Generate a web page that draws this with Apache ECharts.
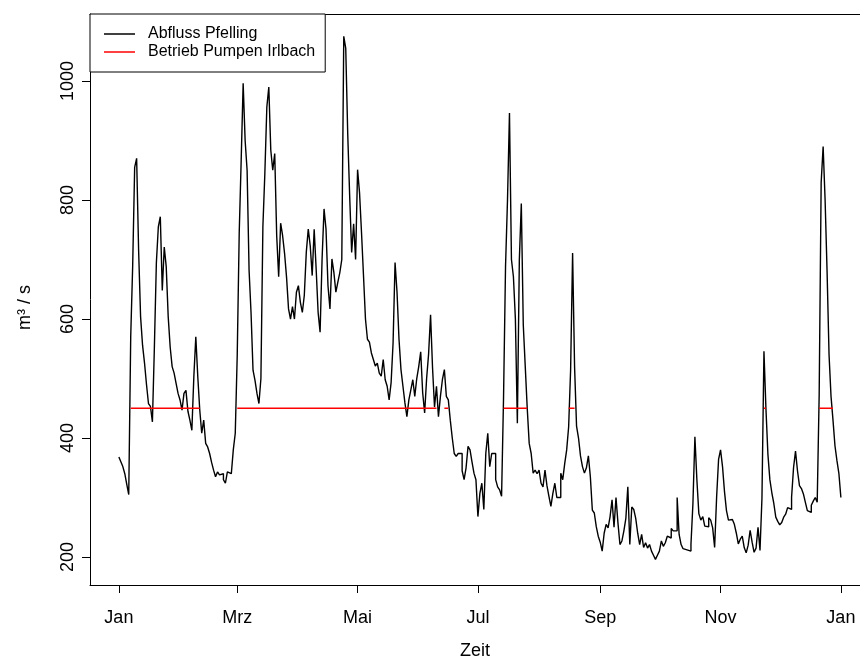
<!DOCTYPE html>
<html>
<head>
<meta charset="utf-8">
<title>Abfluss Pfelling</title>
<script src="https://cdn.jsdelivr.net/npm/echarts@6/dist/echarts.min.js"></script>
<style>
  html, body { margin: 0; padding: 0; background: #ffffff; }
  #chart { width: 860px; height: 661px; }
</style>
</head>
<body>
<div id="chart"></div>
<script>
// Daily discharge at Pfelling (m³/s), one array per month of a leap year
const flowJan = [368, 360, 352, 340, 322, 305, 570, 690, 855, 870,
                 716, 604, 556, 526, 490, 458, 453, 427, 553, 694,
                 755, 772, 648, 721, 688, 604, 553, 520, 509, 492,
                 475];
const flowFeb = [464, 447, 475, 480, 445, 430, 413, 503, 570, 503,
                 447, 408, 430, 391, 385, 374, 359, 346, 335, 343,
                 338, 340, 330, 324, 343, 340, 340, 380, 408];
const flowMar = [540, 744, 867, 996, 900, 850, 682, 610, 514, 497,
                 475, 458, 500, 755, 845, 956, 990, 884, 850, 878,
                 740, 671, 761, 740, 710, 670, 617, 600, 621, 600,
                 645];
const flowApr = [656, 628, 611, 640, 712, 751, 723, 673, 751, 684,
                 611, 578, 700, 785, 751, 656, 617, 701, 678, 645,
                 662, 678, 700, 1075, 1055, 912, 806, 712, 760, 700];
const flowMay = [851, 812, 745, 673, 600, 566, 561, 543, 532, 521,
                 526, 509, 504, 532, 498, 487, 464, 493, 560, 695,
                 645, 566, 515, 487, 459, 436, 464, 481, 498, 470,
                 500];
const flowJun = [520, 545, 476, 442, 500, 541, 607, 518, 452, 487,
                 436, 470, 498, 515, 470, 464, 430, 400, 374, 369,
                 374, 374, 345, 330, 350, 386, 380, 360, 341, 330];
const flowJul = [268, 307, 324, 280, 374, 408, 352, 374, 374, 330,
                 318, 313, 302, 469, 688, 800, 946, 700, 671, 600,
                 425, 699, 794, 590, 520, 450, 391, 374, 341, 346,
                 340];
const flowAug = [346, 324, 318, 346, 320, 302, 285, 307, 324, 300,
                 300, 341, 330, 357, 380, 419, 515, 711, 520, 420,
                 400, 370, 352, 341, 350, 370, 335, 279, 274, 251,
                 235];
const flowSep = [225, 210, 240, 255, 249, 268, 296, 250, 300, 257,
                 221, 227, 244, 265, 318, 221, 284, 280, 265, 240,
                 221, 238, 216, 224, 215, 221, 210, 203, 196, 203];
const flowOct = [210, 227, 218, 224, 235, 232, 248, 244, 244, 300,
                 238, 221, 214, 212, 210, 210, 221, 290, 402, 330,
                 273, 262, 268, 252, 251, 266, 262, 249, 216, 300,
                 364];
const flowNov = [380, 352, 310, 278, 262, 263, 261, 255, 240, 222,
                 230, 235, 216, 207, 220, 245, 225, 208, 215, 250,
                 211, 300, 546, 450, 373, 330, 308, 290, 267, 260];
const flowDec = [254, 258, 267, 272, 283, 280, 300, 350, 378, 345,
                 320, 315, 306, 292, 278, 275, 287, 294, 300, 292,
                 474, 829, 890, 800, 680, 540, 470, 430, 387, 362,
                 340];
const flowNextJan1 = [300];

// Pump operation at Irlbach: start / end day of each period (day 0 = 1 Jan)
const pumpStart = [6, 60, 165, 195, 228, 327, 355];
const pumpEnd   = [41, 161, 167, 207, 231, 328, 362];
const pumpLevel = 450;

// Axis ticks
const monthTickDays = [0, 60, 121, 182, 244, 305, 366];
const monthTickLabels = ['Jan', 'Mrz', 'Mai', 'Jul', 'Sep', 'Nov', 'Jan'];
const yTickValues = [200, 400, 600, 800, 1000];

const seriesNames = ['Abfluss Pfelling', 'Betrieb Pumpen Irlbach'];

// ---- build series data ----
const flow = [].concat(flowJan, flowFeb, flowMar, flowApr, flowMay, flowJun,
                       flowJul, flowAug, flowSep, flowOct, flowNov, flowDec, flowNextJan1);
const flowData = flow.map((v, i) => [i, v]);

const pumpData = [];
pumpStart.forEach((s, k) => {
  pumpData.push([s, pumpLevel]);
  pumpData.push([pumpEnd[k], pumpLevel]);
  pumpData.push([pumpEnd[k], null]);   // break between periods
});

// x range: 4 % padding around the year on the left; the frame runs off the right edge
const X_MIN = -14.64;
const X_MAX = 375.69;

const FONT = '"Liberation Sans", Arial, Helvetica, sans-serif';
const chart = echarts.init(document.getElementById('chart'), null, { renderer: 'canvas' });

const frameLine = { show: true, onZero: false, lineStyle: { color: '#000', width: 1 } };

chart.setOption({
  animation: false,
  backgroundColor: '#ffffff',
  textStyle: { fontFamily: FONT, color: '#000' },
  grid: { left: 90, top: 14, right: 0, bottom: 76, show: false, outerBoundsMode: 'none', containLabel: false },
  legend: {
    left: 90, top: 14,
    orient: 'vertical',
    padding: [11, 10, 11, 14],
    itemGap: 0,
    itemWidth: 31,
    itemHeight: 1.5,
    icon: 'rect',
    borderColor: '#000', borderWidth: 1, borderRadius: 0,
    backgroundColor: '#fff',
    textStyle: { fontFamily: FONT, fontSize: 16, color: '#000', lineHeight: 18, padding: [0, 0, 0, 8] },
    data: seriesNames
  },
  xAxis: [
    {
      type: 'value',
      min: X_MIN, max: X_MAX,
      axisLine: frameLine,
      axisTick: { show: true, length: 8, customValues: monthTickDays, lineStyle: { color: '#000', width: 1 } },
      axisLabel: {
        customValues: monthTickDays,
        margin: 24, fontSize: 18, color: '#000', fontFamily: FONT,
        formatter: v => monthTickLabels[monthTickDays.indexOf(v)]
      },
      splitLine: { show: false },
      name: 'Zeit', nameLocation: 'middle', nameGap: 57,
      nameTextStyle: { fontSize: 18, color: '#000', fontFamily: FONT }
    },
    {
      // top edge of the frame
      type: 'value', position: 'top',
      min: X_MIN, max: X_MAX,
      axisLine: frameLine,
      axisTick: { show: false },
      axisLabel: { show: false },
      splitLine: { show: false }
    }
  ],
  yAxis: {
    type: 'value',
    position: 'left',
    min: 153, max: 1112.6,
    axisLine: frameLine,
    axisTick: { show: true, length: 8, customValues: yTickValues, lineStyle: { color: '#000', width: 1 } },
    axisLabel: {
      customValues: yTickValues,
      rotate: 90, margin: 13, fontSize: 18, color: '#000', fontFamily: FONT,
      formatter: v => String(v)
    },
    splitLine: { show: false },
    name: 'm³ / s', nameLocation: 'middle', nameGap: 56, nameRotate: 90,
    nameTextStyle: { fontSize: 18, color: '#000', fontFamily: FONT, padding: [0, 16, 0, 0] }
  },
  series: [
    {
      name: seriesNames[0],
      type: 'line',
      step: 'end',
      data: flowData,
      showSymbol: false, symbol: 'none',
      lineStyle: { color: '#000', width: 1.4 },
      itemStyle: { color: '#000' },
      z: 2
    },
    {
      name: seriesNames[1],
      type: 'line',
      data: pumpData,
      connectNulls: false,
      showSymbol: false, symbol: 'none',
      lineStyle: { color: '#ff0000', width: 1.4 },
      itemStyle: { color: '#ff0000' },
      z: 3
    }
  ]
});
</script>
</body>
</html>
